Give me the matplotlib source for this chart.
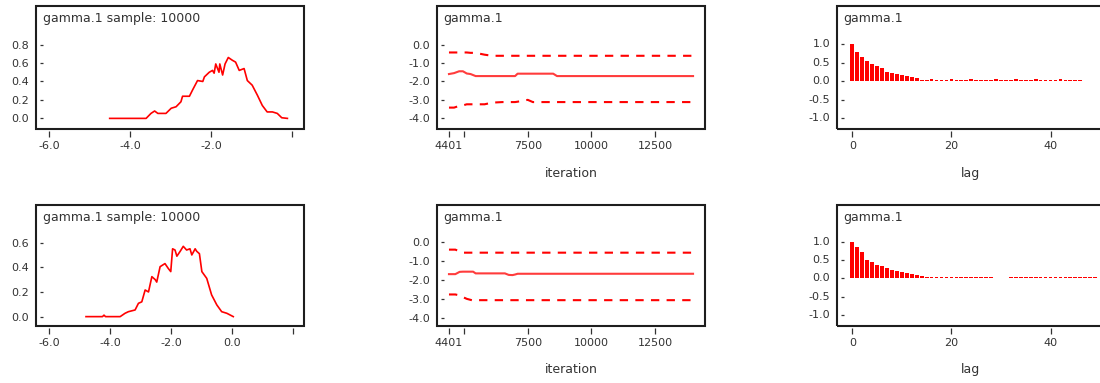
import matplotlib.pyplot as plt
from matplotlib.patches import Rectangle
from matplotlib.transforms import blended_transform_factory

plt.rcParams['font.family'] = ['DejaVu Sans']

# density of gamma.1, first run
dens_x_a = [-4.50, -3.60, -3.48, -3.39, -3.31, -3.11, -2.98, -2.86, -2.74, -2.70, -2.53, -2.45,
            -2.33, -2.20, -2.16, -2.04, -1.96, -1.92, -1.88, -1.80, -1.78, -1.71, -1.65, -1.57,
            -1.47, -1.39, -1.30, -1.18, -1.10, -0.98, -0.85, -0.73, -0.61, -0.48, -0.36, -0.25, -0.11]
dens_y_a = [0.0, 0.0, 0.054, 0.08, 0.054, 0.054, 0.11, 0.126, 0.18, 0.24, 0.24, 0.31,
            0.41, 0.40, 0.45, 0.50, 0.52, 0.49, 0.59, 0.50, 0.59, 0.47, 0.59, 0.66,
            0.63, 0.61, 0.52, 0.54, 0.41, 0.36, 0.25, 0.14, 0.07, 0.07, 0.054, 0.007, 0.0]

# density of gamma.1, second run
dens_x_b = [-4.79, -4.25, -4.20, -4.15, -3.67, -3.51, -3.40, -3.18, -3.07, -2.96, -2.85, -2.74,
            -2.69, -2.63, -2.52, -2.47, -2.36, -2.20, -2.09, -2.01, -1.95, -1.87, -1.81, -1.70,
            -1.60, -1.49, -1.38, -1.32, -1.21, -1.16, -1.07, -0.99, -0.83, -0.67, -0.50, -0.34,
            -0.17, 0.04]
dens_y_b = [0.0, 0.0, 0.012, 0.0, 0.0, 0.027, 0.04, 0.054, 0.108, 0.12, 0.216, 0.20,
            0.257, 0.324, 0.30, 0.28, 0.405, 0.43, 0.39, 0.365, 0.55, 0.54, 0.49, 0.53,
            0.57, 0.54, 0.55, 0.50, 0.55, 0.53, 0.51, 0.365, 0.31, 0.176, 0.095, 0.04,
            0.027, 0.0]

# running quantiles (2.5%, median, 97.5%), first run
iter_a = [4401, 4600, 4800, 4950, 5100, 5250, 5450, 5800, 6100, 6500, 7000, 7100, 7400, 7500,
          7700, 8500, 8650, 10000, 12000, 14000]
med_a = [-1.60, -1.55, -1.45, -1.45, -1.57, -1.60, -1.71, -1.71, -1.71, -1.71, -1.71, -1.58,
         -1.58, -1.58, -1.58, -1.58, -1.71, -1.71, -1.71, -1.71]
upp_a = [-0.43, -0.43, -0.43, -0.43, -0.43, -0.45, -0.45, -0.55, -0.61, -0.61, -0.61, -0.61,
         -0.61, -0.61, -0.61, -0.61, -0.61, -0.61, -0.61, -0.61]
low_a = [-3.42, -3.42, -3.33, -3.30, -3.24, -3.24, -3.24, -3.24, -3.15, -3.12, -3.12, -3.10,
         -3.02, -3.00, -3.12, -3.12, -3.12, -3.12, -3.12, -3.12]

# running quantiles, second run
iter_b = [4401, 4650, 4820, 4950, 5100, 5350, 5450, 6000, 6600, 6750, 6900, 7000, 7100, 8000,
          10000, 12000, 14000]
med_b = [-1.68, -1.68, -1.56, -1.55, -1.55, -1.55, -1.64, -1.64, -1.64, -1.72, -1.73, -1.70,
         -1.66, -1.66, -1.66, -1.66, -1.66]
upp_b = [-0.39, -0.39, -0.48, -0.55, -0.55, -0.55, -0.55, -0.55, -0.55, -0.55, -0.55, -0.55,
         -0.55, -0.55, -0.55, -0.55, -0.55]
low_b = [-2.75, -2.75, -2.80, -2.89, -2.98, -3.07, -3.05, -3.05, -3.05, -3.05, -3.05, -3.05,
         -3.05, -3.05, -3.05, -3.05, -3.05]

# autocorrelation
acf_a = [1.0, 0.79, 0.66, 0.54, 0.46, 0.41, 0.36, 0.25, 0.23, 0.19, 0.17, 0.135, 0.12, 0.08,
         0.04, 0.03, 0.05, 0.04, 0.03, 0.04, 0.05, 0.04, 0.03, 0.04, 0.05, 0.04, 0.04, 0.03,
         0.04, 0.05, 0.04, 0.03, 0.04, 0.05, 0.04, 0.04, 0.03, 0.05, 0.04, 0.04, 0.03, 0.04,
         0.05, 0.04, 0.03, 0.04, 0.04]
acf_b = [1.0, 0.85, 0.71, 0.50, 0.45, 0.36, 0.35, 0.27, 0.22, 0.20, 0.16, 0.145, 0.12, 0.09,
         0.06, 0.04, 0.04, 0.03, 0.05, 0.04, 0.04, 0.03, 0.04, 0.05, 0.04, 0.04, 0.03, 0.04,
         0.04, 0.0, 0.0, 0.0, 0.04, 0.03, 0.04, 0.05, 0.04, 0.04, 0.03, 0.04, 0.05, 0.04,
         0.04, 0.03, 0.04, 0.05, 0.04, 0.04, 0.03, 0.04]

title_dens = 'gamma.1 sample: 10000'
title_node = 'gamma.1'
iter_ticks = [4401, 5000, 7500, 10000, 12500]
iter_labels = ['4401', '', '7500', '10000', '12500']
hist_yticks = [0.0, -1.0, -2.0, -3.0, -4.0]
hist_ylabels = ['0.0', '-1.0', '-2.0', '-3.0', '-4.0']
acf_yticks = [1.0, 0.5, 0.0, -0.5, -1.0]
acf_ylabels = ['1.0', '0.5', '0.0', '-0.5', '-1.0']

TXT = '#333333'
W = 1100.0
H = 383.0

fig = plt.figure(figsize=(11, 3.83), dpi=100)


def panel(px, py, pw=268, ph=123):
    ax = fig.add_axes([px / W, 1 - (py + ph) / H, pw / W, ph / H])
    for s in ax.spines.values():
        s.set_visible(False)
    ax.spines['left'].set_position(('outward', -2.8))
    ax.spines['bottom'].set_position(('outward', 1.5))
    ax.tick_params(axis='y', direction='in', length=2.5, width=0.9, pad=8,
                   labelsize=8, colors=TXT)
    ax.tick_params(axis='x', direction='out', length=4, width=0.9, pad=3,
                   labelsize=8, colors=TXT)
    ax.add_patch(Rectangle((0, 0), 1, 1, transform=ax.transAxes, fill=False,
                           lw=1.5, ec='#1e1e1e', clip_on=False, zorder=5))
    return ax


def dens_panel(px, py, ph, x, y, ylim, yt, xlim, xt, xl):
    ax = panel(px, py, ph=ph)
    ax.plot(x, y, color='red', lw=1.2)
    ax.set_xlim(xlim)
    ax.set_ylim(ylim)
    ax.set_yticks(yt)
    ax.set_yticklabels(['%.1f' % v for v in yt])
    ax.set_xticks(xt)
    ax.set_xticklabels(xl)
    ax.text(0.026, 0.9, title_dens, transform=ax.transAxes, fontsize=9,
            color=TXT, va='center')
    return ax


def hist_panel(px, py, ph, it, med, upp, low, ylim):
    ax = panel(px, py, ph=ph)
    ax.plot(it, med, color='#ff3c3c', lw=1.5)
    ax.plot(it, upp, color='red', lw=1.5, ls=(0, (4, 3.5)))
    ax.plot(it, low, color='red', lw=1.5, ls=(0, (4, 3.5)))
    ax.set_xlim(3930, 14470)
    ax.set_ylim(ylim)
    ax.set_yticks(hist_yticks)
    ax.set_yticklabels(hist_ylabels)
    ax.set_xticks(iter_ticks)
    ax.set_xticklabels(iter_labels)
    ax.text(0.022, 0.9, title_node, transform=ax.transAxes, fontsize=9,
            color=TXT, va='center')
    ax.text(0.5, -0.36, 'iteration', transform=ax.transAxes, fontsize=9,
            color=TXT, ha='center', va='center')
    return ax


def acf_panel(px, py, ph, acf, ylim):
    ax = panel(px, py, ph=ph)
    ax.bar(range(len(acf)), acf, width=0.75, color='red', lw=0)
    ax.set_xlim(-3.1, 51.0)
    ax.set_ylim(ylim)
    ax.set_yticks(acf_yticks)
    ax.tick_params(axis='y', labelleft=False)
    # y labels as figure texts so nothing can cover them
    tr = blended_transform_factory(fig.transFigure, ax.transData)
    for v, s in zip(acf_yticks, acf_ylabels):
        fig.text((px - 7) / W, v, s, transform=tr, fontsize=8, color=TXT,
                 ha='right', va='center', zorder=10)
    ax.set_xticks([0, 20, 40])
    ax.set_xticklabels(['0', '20', '40'])
    ax.text(0.022, 0.9, title_node, transform=ax.transAxes, fontsize=9,
            color=TXT, va='center')
    ax.text(0.5, -0.36, 'lag', transform=ax.transAxes, fontsize=9,
            color=TXT, ha='center', va='center')
    return ax


# top row
dens_panel(36, 6, 123, dens_x_a, dens_y_a, (-0.115, 1.218),
           [0.0, 0.2, 0.4, 0.6, 0.8], (-6.32, 0.3), [-6, -4, -2, 0],
           ['-6.0', '-4.0', '-2.0', ''])
hist_panel(437, 6, 123, iter_a, med_a, upp_a, low_a, (-4.58, 2.09))
acf_panel(837, 6, 123, acf_a, (-1.30, 2.04))

# bottom row
dens_panel(36, 205, 121, dens_x_b, dens_y_b, (-0.076, 0.905),
           [0.0, 0.2, 0.4, 0.6], (-6.43, 2.36), [-6, -4, -2, 0, 2],
           ['-6.0', '-4.0', '-2.0', '0.0', ''])
hist_panel(437, 205, 121, iter_b, med_b, upp_b, low_b, (-4.41, 1.96))
acf_panel(837, 205, 121, acf_b, (-1.30, 2.0))

fig.savefig('out.png', dpi=100)
